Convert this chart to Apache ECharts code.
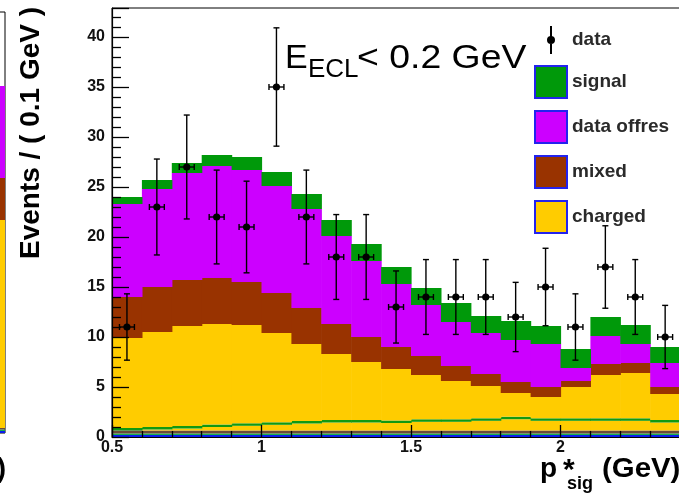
<!DOCTYPE html>
<html>
<head>
<meta charset="utf-8">
<script src="https://cdn.jsdelivr.net/npm/echarts@6/dist/echarts.min.js"></script>
<style>
html,body{margin:0;padding:0;background:#fff;}
#chart{width:679px;height:494px;}
</style>
</head>
<body>
<div id="chart"></div>
<script>
// Histogram binning: lower bin edges in p*_sig (GeV), width 0.1 GeV
const binLow = [0.5,0.6,0.7,0.8,0.9,1.0,1.1,1.2,1.3,1.4,1.5,1.6,1.7,1.8,1.9,2.0,2.1,2.2,2.3];
const binWidth = 0.1;

// Observed events per bin
const dataCounts = [11,23,27,22,21,35,22,18,18,13,14,14,14,12,15,11,17,14,10];

// Stacked components (events per bin), listed from the bottom of the stack upward
const lowBlue   = [0.2,0.2,0.2,0.2,0.2,0.2,0.2,0.2,0.2,0.2,0.2,0.2,0.2,0.2,0.2,0.2,0.2,0.2,0.2];
const lowGreen  = [0.15,0.15,0.15,0.15,0.15,0.15,0.15,0.15,0.15,0.15,0.15,0.15,0.15,0.15,0.15,0.15,0.15,0.15,0.15];
const lowMixed  = [0.3,0.3,0.3,0.3,0.3,0.3,0.3,0.3,0.3,0.3,0.3,0.3,0.3,0.3,0.3,0.3,0.3,0.3,0.3];
const lowCharged= [0,0.1,0.2,0.35,0.47,0.57,0.7,0.8,0.8,0.75,0.87,0.87,0.97,1.13,0.97,0.97,0.97,0.97,0.8];
const lowSignal = [0.25,0.25,0.25,0.25,0.25,0.25,0.25,0.25,0.25,0.25,0.25,0.25,0.25,0.25,0.25,0.25,0.25,0.25,0.25];
const charged   = [9.0,9.5,10.0,10.05,9.83,8.93,7.7,6.6,5.8,5.15,4.43,3.83,3.23,2.37,2.13,3.13,4.33,4.53,2.6];
const mixed     = [4.1,4.5,4.6,4.6,4.3,4.0,3.6,3.0,2.5,2.2,1.9,1.5,1.2,1.1,1.0,0.6,1.1,1.0,0.7];
const offres    = [9.3,9.8,10.7,11.2,11.2,10.7,9.9,8.8,7.6,6.3,5.1,4.4,4.1,4.2,4.3,1.3,2.8,1.9,2.4];
const signal    = [0.7,0.9,1.0,1.1,1.3,1.4,1.5,1.6,1.7,1.7,1.7,1.9,1.7,1.9,1.8,1.9,1.9,1.9,1.6];

// Neighbouring panel (only its last bin edge is in view): one bin of stacked contents
const sideBin = [0, 1];
const sideLow = [0.2, 0.15, 0.15];
const sideCharged = [20.8];
const sideMixed = [4.2];
const sideOffres = [9.2];

// Y tick labels every 5 events, x tick labels every 0.5 GeV
const yTickStep = 5;
const xTickStep = 0.5;

const COL = {
  signal: '#00990a',
  offres: '#cc00ff',
  mixed: '#993300',
  charged: '#ffcc00',
  blue: '#0a1aee',
  green: '#17b04a',
  grey: '#6a4a3a',
  line: '#119911',
  box: '#2323ee'
};
const FONT = '"Liberation Sans", Arial, Helvetica, sans-serif';

function cumulative(layers) {
  const out = [];
  let acc = layers[0].map(() => 0);
  for (const l of layers) {
    out.push(acc.slice());
    acc = acc.map((a, i) => a + l[i]);
  }
  return out;
}

function layerSeries(name, values, below, color, lows, width, axisIdx) {
  return {
    type: 'custom',
    name: name,
    xAxisIndex: axisIdx,
    yAxisIndex: axisIdx,
    clip: true,
    z: 2,
    itemStyle: { color: color },
    silent: true,
    data: values.map((v, i) => [lows[i], lows[i] + width, below[i], below[i] + v]),
    encode: { x: [0, 1], y: [2, 3] },
    renderItem: function (params, api) {
      const p0 = api.coord([api.value(0), api.value(2)]);
      const p1 = api.coord([api.value(1), api.value(3)]);
      return {
        type: 'rect',
        shape: { x: p0[0], y: p1[1], width: p1[0] - p0[0] + 0.6, height: p0[1] - p1[1] },
        style: { fill: color }
      };
    }
  };
}

const mainLayers = [lowBlue, lowGreen, lowMixed, lowCharged, lowSignal, charged, mixed, offres, signal];
const mainNames = ['lowBlue', 'lowGreen', 'lowMixed', 'lowCharged', 'lowSignal', 'charged', 'mixed', 'data offres', 'signal'];
const mainColors = [COL.blue, COL.green, COL.grey, COL.charged, COL.line, COL.charged, COL.mixed, COL.offres, COL.signal];
const mainBelow = cumulative(mainLayers);

const series = [];
mainLayers.forEach((l, k) => {
  series.push(layerSeries(mainNames[k], l, mainBelow[k], mainColors[k], binLow, binWidth, 0));
});

const sideLayers = [[sideLow[0]], [sideLow[1]], [sideLow[2]], sideCharged, sideMixed, sideOffres];
const sideColors = [COL.blue, COL.green, COL.grey, COL.charged, COL.mixed, COL.offres];
const sideBelow = cumulative(sideLayers);
sideLayers.forEach((l, k) => {
  series.push(layerSeries('side' + k, l, sideBelow[k], sideColors[k], [sideBin[0]], sideBin[1] - sideBin[0], 1));
});

// Data points with Poisson errors
const xHalfErr = 0.025;
const dataPts = dataCounts.map((n, i) => [binLow[i] + binWidth / 2, n, Math.sqrt(n)]);

series.push({
  type: 'custom',
  name: 'data',
  xAxisIndex: 0,
  yAxisIndex: 0,
  z: 5,
  silent: true,
  itemStyle: { color: '#000' },
  data: dataPts,
  encode: { x: 0, y: 1 },
  renderItem: function (params, api) {
    const x = api.value(0), y = api.value(1), e = api.value(2);
    const top = api.coord([x, y + e]);
    const bot = api.coord([x, y - e]);
    const l = api.coord([x - xHalfErr, y]);
    const r = api.coord([x + xHalfErr, y]);
    const st = { stroke: '#000', lineWidth: 1.4 };
    const cap = 3;
    return {
      type: 'group',
      children: [
        { type: 'line', shape: { x1: top[0], y1: top[1], x2: bot[0], y2: bot[1] }, style: st },
        { type: 'line', shape: { x1: top[0] - cap, y1: top[1], x2: top[0] + cap, y2: top[1] }, style: st },
        { type: 'line', shape: { x1: bot[0] - cap, y1: bot[1], x2: bot[0] + cap, y2: bot[1] }, style: st },
        { type: 'line', shape: { x1: l[0], y1: l[1], x2: r[0], y2: r[1] }, style: st },
        { type: 'line', shape: { x1: l[0], y1: l[1] - cap, x2: l[0], y2: l[1] + cap }, style: st },
        { type: 'line', shape: { x1: r[0], y1: r[1] - cap, x2: r[0], y2: r[1] + cap }, style: st },
        { type: 'circle', shape: { cx: (l[0] + r[0]) / 2, cy: l[1], r: 3.6 }, style: { fill: '#000' } }
      ]
    };
  }
});

const dataIcon = 'path://M0,16L0.01,16L0,16.01Z M32,16L31.99,16L32,16.01Z M15,2L17,2L17,30L15,30Z M12,16a4,4 0 1,1 8,0a4,4 0 1,1 -8,0Z';
const boxStyle = (c) => ({ color: c, borderColor: COL.box, borderWidth: 2 });

const option = {
  animation: false,
  backgroundColor: '#fff',
  grid: [
    { left: 112, top: 8, width: 598, height: 429, show: true, borderColor: '#000', borderWidth: 1, backgroundColor: '#fff',
      outerBoundsMode: 'none', containLabel: false },
    { left: -95, top: 12, width: 100, height: 421, show: true, borderColor: '#000', borderWidth: 1, backgroundColor: '#fff',
      outerBoundsMode: 'none', containLabel: false }
  ],
  xAxis: [
    {
      type: 'value', gridIndex: 0, min: 0.5, max: 2.5, interval: xTickStep, z: 10,
      axisLine: { show: true, onZero: false, lineStyle: { color: '#000', width: 1.2 } },
      axisTick: { show: true, inside: true, length: 12, lineStyle: { color: '#000', width: 1.3 } },
      minorTick: { show: true, splitNumber: 5, length: 6, lineStyle: { color: '#000', width: 1.3 } },
      splitLine: { show: false },
      axisLabel: { margin: 3, fontSize: 16, fontWeight: 'bold', color: '#111', fontFamily: FONT,
        formatter: v => (v > 2.2 ? '' : String(v)) }
    },
    { type: 'value', gridIndex: 1, min: 0, max: 1, show: false }
  ],
  yAxis: [
    {
      type: 'value', gridIndex: 0, min: 0, max: 42.9, interval: yTickStep, z: 10,
      axisLine: { show: true, lineStyle: { color: '#000', width: 1.2 } },
      axisTick: { show: true, inside: true, length: 17, lineStyle: { color: '#000', width: 1.3 } },
      minorTick: { show: true, splitNumber: 5, length: 9, lineStyle: { color: '#000', width: 1.3 } },
      splitLine: { show: false },
      axisLabel: { margin: 7, fontSize: 16, fontWeight: 'bold', color: '#111', fontFamily: FONT,
        showMaxLabel: false }
    },
    { type: 'value', gridIndex: 1, min: 0, max: 42.1, show: false }
  ],
  legend: {
    orient: 'vertical',
    left: 534,
    top: 26,
    padding: 0,
    itemWidth: 32,
    itemHeight: 32,
    itemGap: 11,
    icon: 'rect',
    selectedMode: false,
    textStyle: { fontSize: 19, fontWeight: 'bold', color: '#2a2a2a', fontFamily: FONT },
    data: [
      { name: 'data', icon: dataIcon, itemStyle: { color: '#000', borderWidth: 0 } },
      { name: 'signal', itemStyle: boxStyle(COL.signal) },
      { name: 'data offres', itemStyle: boxStyle(COL.offres) },
      { name: 'mixed', itemStyle: boxStyle(COL.mixed) },
      { name: 'charged', itemStyle: boxStyle(COL.charged) }
    ]
  },
  graphic: [
    { type: 'text', x: 31, y: 133, rotation: Math.PI / 2, z: 20,
      style: { text: 'Events / ( 0.1 GeV )', fontSize: 28, fontWeight: 'bold', fontFamily: FONT, fill: '#000', align: 'center', verticalAlign: 'middle' } },
    { type: 'text', x: 285, y: 59, z: 20,
      style: { text: 'E', fontSize: 34, fontFamily: FONT, fill: '#000', align: 'left', verticalAlign: 'middle' } },
    { type: 'text', x: 308, y: 70, z: 20,
      style: { text: 'ECL', fontSize: 26, fontFamily: FONT, fill: '#000', align: 'left', verticalAlign: 'middle' } },
    { type: 'text', x: 357, y: 59, z: 20, scaleX: 1.1,
      style: { text: '< 0.2 GeV', fontSize: 34, fontFamily: FONT, fill: '#000', align: 'left', verticalAlign: 'middle' } },
    { type: 'text', x: 540, y: 469, z: 20,
      style: { text: 'p', fontSize: 28, fontWeight: 'bold', fontFamily: FONT, fill: '#000', align: 'left', verticalAlign: 'middle' } },
    { type: 'text', x: 563, y: 471, z: 20,
      style: { text: '*', fontSize: 30, fontWeight: 'bold', fontFamily: FONT, fill: '#000', align: 'left', verticalAlign: 'middle' } },
    { type: 'text', x: 567, y: 484, z: 20,
      style: { text: 'sig', fontSize: 18, fontWeight: 'bold', fontFamily: FONT, fill: '#000', align: 'left', verticalAlign: 'middle' } },
    { type: 'text', x: 602, y: 469, z: 20, scaleX: 1.05,
      style: { text: '(GeV)', fontSize: 28, fontWeight: 'bold', fontFamily: FONT, fill: '#000', align: 'left', verticalAlign: 'middle' } },
    { type: 'text', x: 6, y: 469, z: 20,
      style: { text: ')', fontSize: 28, fontWeight: 'bold', fontFamily: FONT, fill: '#000', align: 'right', verticalAlign: 'middle' } }
  ],
  series: series
};

const chart = echarts.init(document.getElementById('chart'), null, { renderer: 'canvas' });
chart.setOption(option);
</script>
</body>
</html>
